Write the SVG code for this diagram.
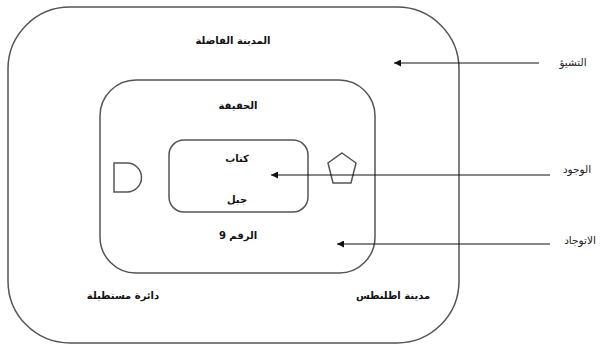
<svg xmlns="http://www.w3.org/2000/svg" width="604" height="346" viewBox="0 0 604 346">
<style>
.box{fill:none;stroke:#555;stroke-width:1.5}
.shape{fill:#fff;stroke:#555;stroke-width:1.5}
.lb{font-family:"DejaVu Sans",sans-serif;font-size:10px;font-weight:bold;fill:#111;text-anchor:middle;direction:rtl}
.ls{font-family:"DejaVu Sans",sans-serif;font-size:10.5px;fill:#222;text-anchor:middle;direction:rtl}
.arr{stroke:#111;stroke-width:1;fill:none;marker-end:url(#ah)}
</style>
<defs>
<marker id="ah" viewBox="0 0 10 10" refX="10" refY="5" markerWidth="9" markerHeight="7" markerUnits="userSpaceOnUse" orient="auto">
<path d="M0,0 L10,5 L0,10 z" fill="#111"/>
</marker>
</defs>
<rect width="604" height="346" fill="#fff"/>
<g id="outer">
<rect class="box" x="8" y="7" width="451" height="336" rx="62" ry="62"/>
<text class="lb" x="233" y="44">المدينة الفاضلة</text>
<text class="lb" x="123" y="299">دائرة مستطيلة</text>
<text class="lb" x="393" y="299">مدينة اطلنطس</text>
</g>
<g id="middle">
<rect class="box" x="100" y="80" width="275" height="193" rx="36" ry="36"/>
<text class="lb" x="238" y="109">الحقيقة</text>
<text class="lb" x="238" y="239">الرقم 9</text>
</g>
<g id="inner">
<rect class="box" x="169" y="140" width="139" height="72" rx="15" ry="15"/>
<text class="lb" x="237" y="162">كتاب</text>
<text class="lb" x="237" y="203">جبل</text>
</g>
<g id="dshape">
<path class="shape" d="M114,163 L127,163 A14.5,14.5 0 0 1 127,192 L114,192 Z"/>
</g>
<g id="pentagon">
<polygon class="shape" points="342,153 356,163 351,183 333,183 328,163"/>
</g>
<g id="labels">
<text class="ls" x="573" y="66">التشيؤ</text>
<text class="ls" x="577" y="173">الوجود</text>
<text class="ls" x="580" y="244">الاتوجاد</text>
</g>
<g id="connectors">
<line class="arr" x1="539" y1="63" x2="394" y2="63"/>
<line class="arr" x1="550" y1="175" x2="271" y2="175"/>
<line class="arr" x1="550" y1="244" x2="337" y2="244"/>
</g>
</svg>
